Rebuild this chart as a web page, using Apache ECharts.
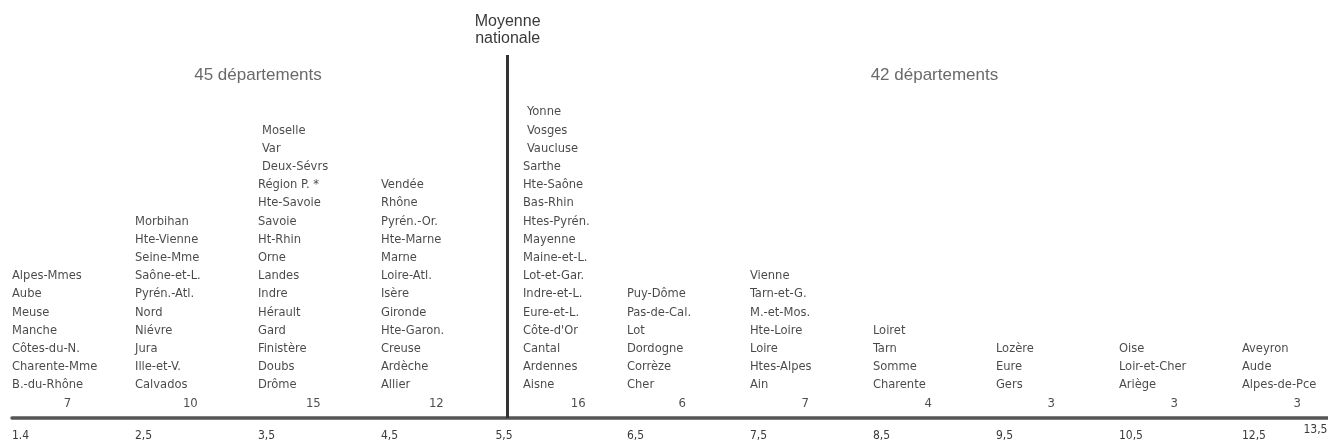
<!DOCTYPE html>
<html>
<head>
<meta charset="utf-8">
<script src="https://cdn.jsdelivr.net/npm/echarts@6/dist/echarts.min.js"></script>
<style>html,body{margin:0;padding:0;background:#fff}#c{width:1328px;height:444px}</style>
</head>
<body>
<div id="c"></div>
<script>
// ---- data ----
const tickLabels = ['1.4','2,5','3,5','4,5','5,5','6,5','7,5','8,5','9,5','10,5','12,5','13,5'];
const col1 = ['Alpes-Mmes','Aube','Meuse','Manche','Côtes-du-N.','Charente-Mme','B.-du-Rhône'];
const col2 = ['Morbihan','Hte-Vienne','Seine-Mme','Saône-et-L.','Pyrén.-Atl.','Nord','Niévre','Jura','Ille-et-V.','Calvados'];
const col3 = ['Moselle','Var','Deux-Sévrs','Région P. *','Hte-Savoie','Savoie','Ht-Rhin','Orne','Landes','Indre','Hérault','Gard','Finistère','Doubs','Drôme'];
const col4 = ['Vendée','Rhône','Pyrén.-Or.','Hte-Marne','Marne','Loire-Atl.','Isère','Gironde','Hte-Garon.','Creuse','Ardèche','Allier'];
const col5 = ['Yonne','Vosges','Vaucluse','Sarthe','Hte-Saône','Bas-Rhin','Htes-Pyrén.','Mayenne','Maine-et-L.','Lot-et-Gar.','Indre-et-L.','Eure-et-L.','Côte-d\'Or','Cantal','Ardennes','Aisne'];
const col6 = ['Puy-Dôme','Pas-de-Cal.','Lot','Dordogne','Corrèze','Cher'];
const col7 = ['Vienne','Tarn-et-G.','M.-et-Mos.','Hte-Loire','Loire','Htes-Alpes','Ain'];
const col8 = ['Loiret','Tarn','Somme','Charente'];
const col9 = ['Lozère','Eure','Gers'];
const col10 = ['Oise','Loir-et-Cher','Ariège'];
const col11 = ['Aveyron','Aude','Alpes-de-Pce'];
const columns = [col1,col2,col3,col4,col5,col6,col7,col8,col9,col10,col11];
const counts = [7,10,15,12,16,6,7,4,3,3,3];
const groupLabels = ['45 départements','42 départements'];
const meanLabel = 'Moyenne\nnationale';
const indented = ['Moselle','Var','Deux-Sévrs','Yonne','Vosges','Vaucluse'];

// ---- layout helpers ----
const meanCol = tickLabels.indexOf('5,5');          // class boundary of the national mean
const meanPos = meanCol + 0.03;
const tickPos = tickLabels.map((_, i) => i < tickLabels.length - 1 ? i : i - 0.5);
const lastEdge = tickLabels.length - 1;
const gapAfterMean = 19;
const NAME_FONT = "'Liberation Sans Narrow','DejaVu Sans Condensed','Liberation Sans',sans-serif";
const PLAIN_FONT = "'Liberation Sans','Arial',sans-serif";

const nameData = [];
columns.forEach((col, c) => {
  col.forEach((name, k) => {
    const off = (c === meanCol ? gapAfterMean : 0) + (indented.includes(name) ? 4 : 0);
    nameData.push({ value: [c, col.length - 1 - k], name: name, label: { offset: [off, 0] } });
  });
});
const countData = counts.map((n, c) => ({
  value: [c + 0.45, -1], name: String(n),
  label: { offset: [c === meanCol ? gapAfterMean : 0, 0] }
}));
const groupData = [
  { value: [meanCol / 2, 17], name: groupLabels[0] },
  { value: [(meanCol + lastEdge) / 2, 17], name: groupLabels[1] }
];

const xBase = { type: 'value', position: 'bottom', min: 0, max: 10.7, splitLine: { show: false }, axisTick: { show: false } };
const labelStyle = { fontFamily: NAME_FONT, fontSize: 12, color: '#3a3a3a' };

const option = {
  backgroundColor: '#fff',
  animation: false,
  grid: { left: 12, right: 0, top: 0, bottom: 26, containLabel: false, outerBoundsMode: 'none' },
  xAxis: [
    Object.assign({}, xBase, {
      axisLine: { show: true, onZero: false, lineStyle: { color: '#555', width: 3.5 } },
      axisLabel: Object.assign({}, labelStyle, {
        customValues: tickPos.filter((p, i) => i !== meanCol && i !== tickPos.length - 1),
        align: 'left', margin: 12,
        formatter: v => tickLabels[tickPos.indexOf(v)]
      })
    }),
    Object.assign({}, xBase, {
      axisLine: { show: false, onZero: false },
      axisLabel: Object.assign({}, labelStyle, {
        customValues: [tickPos[meanCol]], align: 'center', margin: 12,
        formatter: v => tickLabels[tickPos.indexOf(v)]
      })
    }),
    Object.assign({}, xBase, {
      axisLine: { show: false, onZero: false },
      axisLabel: Object.assign({}, labelStyle, {
        customValues: [tickPos[tickPos.length - 1]], align: 'left', margin: 6,
        formatter: v => tickLabels[tickPos.indexOf(v)]
      })
    })
  ],
  yAxis: { type: 'value', min: -1.813, max: 21.154, show: false },
  series: [
    {
      type: 'scatter', symbolSize: 0, clip: false, silent: true,
      data: nameData,
      label: {
        show: true, position: 'right', distance: 0, align: 'left', verticalAlign: 'middle',
        formatter: p => p.name, fontFamily: NAME_FONT, fontSize: 12.8, color: '#1a1a1a'
      },
      markLine: {
        silent: true, symbol: ['none', 'none'],
        lineStyle: { color: '#333', width: 3, type: 'solid' },
        label: {
          show: true, position: 'start', distance: 8, formatter: meanLabel,
          fontFamily: PLAIN_FONT, fontSize: 16, lineHeight: 17, color: '#3a3a3a'
        },
        data: [[{ coord: [meanPos, 18.13] }, { coord: [meanPos, -1.813] }]]
      }
    },
    {
      type: 'scatter', symbolSize: 0, clip: false, silent: true,
      data: countData,
      label: {
        show: true, position: 'inside', align: 'center', verticalAlign: 'middle',
        formatter: p => p.name, fontFamily: NAME_FONT, fontSize: 13, color: '#222'
      }
    },
    {
      type: 'scatter', symbolSize: 0, clip: false, silent: true,
      data: groupData,
      label: {
        show: true, position: 'inside', align: 'center', verticalAlign: 'middle',
        formatter: p => p.name, fontFamily: PLAIN_FONT, fontSize: 17, color: '#444'
      }
    }
  ]
};
echarts.init(document.getElementById('c')).setOption(option);
</script>
</body>
</html>
